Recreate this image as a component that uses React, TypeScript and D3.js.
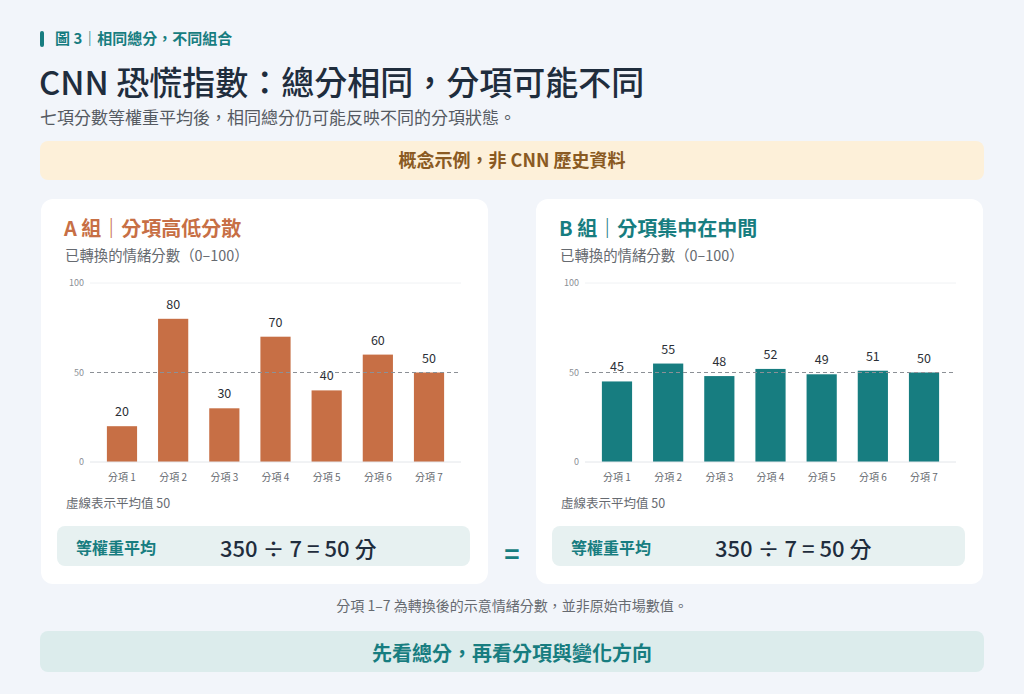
import React from 'react';
import * as d3 from 'd3';

const categories = ['分項 1', '分項 2', '分項 3', '分項 4', '分項 5', '分項 6', '分項 7'];
const groupAValues = [20, 80, 30, 70, 40, 60, 50];
const groupBValues = [45, 55, 48, 52, 49, 51, 50];
const yTicks = [0, 50, 100];
const averageValue = 50;

const W = 1024;
const H = 694;
const FONT = '"Noto Sans CJK TC", "Noto Sans", sans-serif';

const ORANGE = '#c76f45';
const TEAL = '#177d80';
const INK = '#1f2d3d';

interface PanelProps {
  x: number;
  title: string;
  color: string;
  values: number[];
}

const Panel: React.FC<PanelProps> = ({ x, title, color, values }) => {
  // inner chart area relative to the panel's left edge
  const xBand = d3.scaleBand<string>()
    .domain(categories)
    .range([55.4, 413.6])
    .paddingInner(0.41)
    .paddingOuter(0.205);
  const y = d3.scaleLinear().domain([0, 100]).range([462, 283]);
  const axisX0 = 49;
  const axisX1 = 420;
  const total = d3.sum(values);

  return (
    <g transform={`translate(${x},0)`}>
      <rect x={0} y={199} width={447} height={385} rx={12} fill="#ffffff" />
      <text x={23} y={236} fontSize={20} fontWeight={700} fill={color}>{title}</text>
      <text x={24} y={261} fontSize={14.4} fill="#666a70">已轉換的情緒分數（0–100）</text>

      {/* gridline at top */}
      <line x1={axisX0} x2={axisX1} y1={y(100)} y2={y(100)} stroke="#f0f2f4" strokeWidth={1} />

      {yTicks.map(t => (
        <text key={t} x={43} y={y(t)} dy="0.35em" textAnchor="end" fontSize={9} fill="#8a8f95">{t}</text>
      ))}

      {values.map((v, i) => (
        <g key={categories[i]}>
          <rect
            x={xBand(categories[i])!}
            y={y(v)}
            width={xBand.bandwidth()}
            height={y(0) - y(v)}
            fill={color}
          />
          <text
            x={xBand(categories[i])! + xBand.bandwidth() / 2}
            y={y(v) - 10}
            textAnchor="middle"
            fontSize={12.5}
            fill="#2b2f36"
          >{v}</text>
          <text
            x={xBand(categories[i])! + xBand.bandwidth() / 2}
            y={477}
            dy="0.35em"
            textAnchor="middle"
            fontSize={10}
            fill="#666a70"
          >{categories[i]}</text>
        </g>
      ))}

      <line x1={axisX0} x2={axisX1} y1={y(0)} y2={y(0)} stroke="#e3e6ea" strokeWidth={1} />
      <line
        x1={axisX0}
        x2={axisX1}
        y1={y(averageValue)}
        y2={y(averageValue)}
        stroke="#8c9096"
        strokeWidth={1}
        strokeDasharray="4 3"
      />

      <text x={25} y={508} fontSize={12.5} fill="#666a70">虛線表示平均值 {averageValue}</text>

      <rect x={16} y={526} width={413} height={40} rx={8} fill="#e7f1f1" />
      <text x={35} y={548} dy="0.35em" fontSize={16} fontWeight={700} fill={TEAL}>等權重平均</text>
      <text x={179} y={549} dy="0.35em" fontSize={22} fontWeight={500} fill={INK}>
        {`${total} ÷ ${values.length} = ${total / values.length} 分`}
      </text>
    </g>
  );
};

export default function App() {
  return (
    <div style={{ position: 'absolute', left: 0, top: 0 }}>
      <svg width={W} height={H} viewBox={`0 0 ${W} ${H}`} style={{ display: 'block', fontFamily: FONT }}>
        <rect width={W} height={H} fill="#f2f5fa" />

        {/* tag */}
        <rect x={40} y={31} width={4} height={16} rx={2} fill={TEAL} />
        <text x={55} y={39} dy="0.35em" fontSize={15} fontWeight={700} fill={TEAL}>圖 3｜相同總分，不同組合</text>

        <text x={39} y={95} fontSize={33} fontWeight={500} fill={INK}>CNN 恐慌指數：總分相同，分項可能不同</text>
        <text x={40} y={118} dy="0.35em" fontSize={17} fill="#555a62">七項分數等權重平均後，相同總分仍可能反映不同的分項狀態。</text>

        <rect x={40} y={141} width={944} height={39} rx={8} fill="#fdf0d9" />
        <text x={512} y={161} dy="0.35em" textAnchor="middle" fontSize={18} fontWeight={700} fill="#8a5a22">概念示例，非 CNN 歷史資料</text>

        <Panel x={41} title="A 組｜分項高低分散" color={ORANGE} values={groupAValues} />
        <Panel x={536} title="B 組｜分項集中在中間" color={TEAL} values={groupBValues} />

        <text x={512} y={555} dy="0.35em" textAnchor="middle" fontSize={26} fontWeight={700} fill={TEAL}>=</text>

        <text x={512} y={606} dy="0.35em" textAnchor="middle" fontSize={14} fill="#666a70">分項 1–7 為轉換後的示意情緒分數，並非原始市場數值。</text>

        <rect x={40} y={631} width={944} height={41} rx={8} fill="#dcecec" />
        <text x={512} y={654} dy="0.35em" textAnchor="middle" fontSize={20} fontWeight={700} fill={TEAL}>先看總分，再看分項與變化方向</text>
      </svg>
    </div>
  );
}
